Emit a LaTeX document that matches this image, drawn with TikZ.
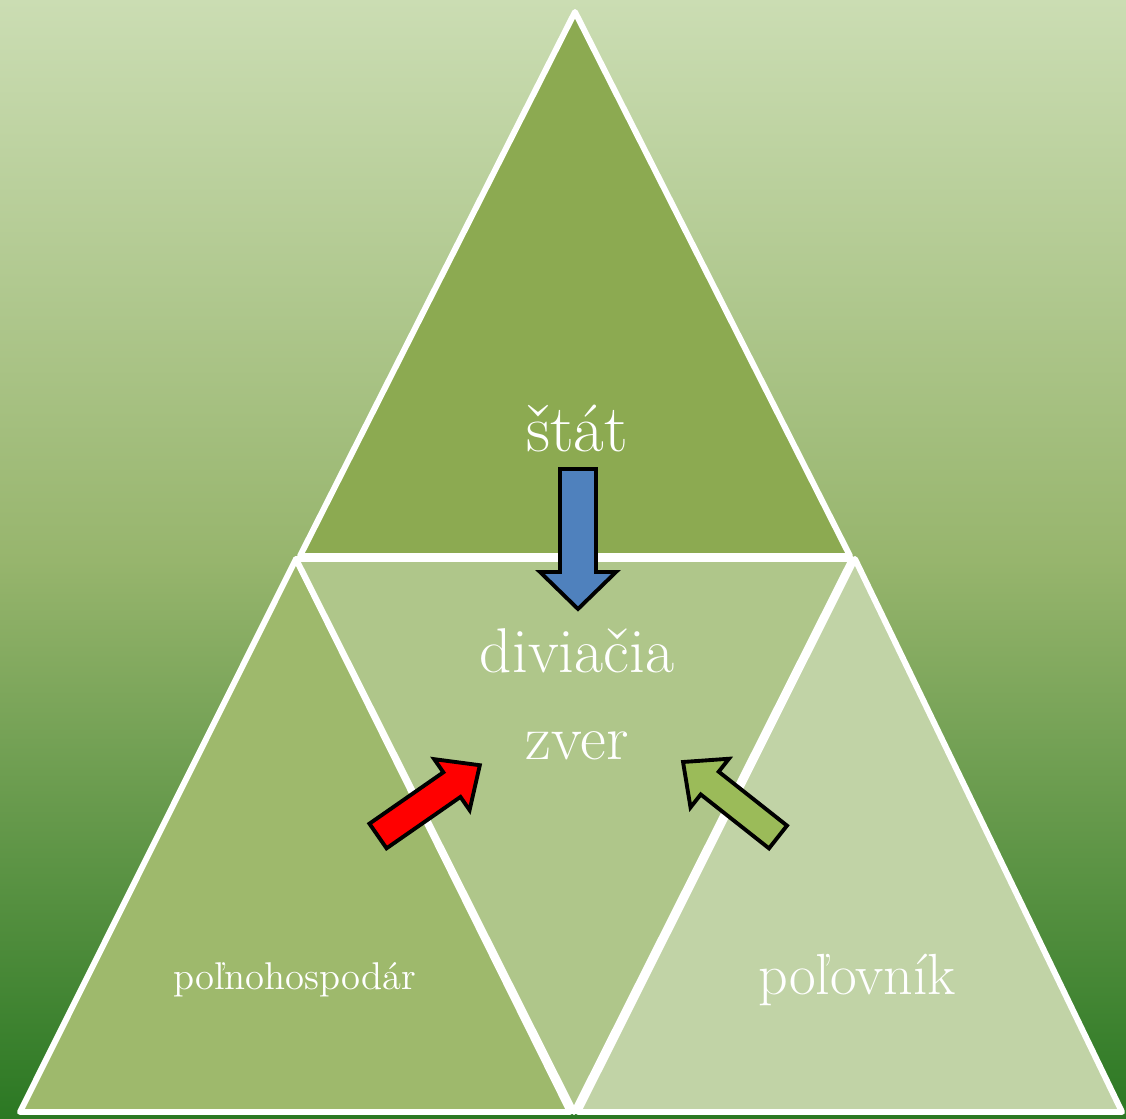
\documentclass[tikz,border=0pt]{standalone}
\usepackage{fontspec}
\definecolor{bgtop}{HTML}{CBDDB3}
\definecolor{bgmid}{HTML}{97B56D}
\definecolor{bgbot}{HTML}{2B7823}
\definecolor{topgreen}{HTML}{8CAA51}
\definecolor{midgreen}{HTML}{AFC68A}
\definecolor{leftgreen}{HTML}{9EB96C}
\definecolor{rightgreen}{HTML}{C1D3A6}
\definecolor{arrowblue}{HTML}{4F81BD}
\definecolor{arrowgreen}{HTML}{9BBB59}
% block arrow: tail, angle, length, shaft width, head width, head length, fill
\newcommand{\fatarrow}[7]{%
  \filldraw[arrowdecorate,fill=#7,shift={#1},rotate=#2]
    (0,{-#4/2}) -- ({#3-#6},{-#4/2}) -- ({#3-#6},{-#5/2}) -- (#3,0)
    -- ({#3-#6},{#5/2}) -- ({#3-#6},{#4/2}) -- (0,{#4/2}) -- cycle;}
\begin{document}
\begin{tikzpicture}
[x=0.01cm,y=-0.01cm,
  tridecorate/.style={draw=white,line width=1.7pt,line join=round},%
  arrowdecorate/.style={draw=black,line width=1.1pt,line join=miter},%
  labeldecorate/.style={text=white,inner sep=0pt,anchor=base}]
\useasboundingbox (0,0) rectangle (1126,1119);
% background
\shade[top color=bgtop,bottom color=bgmid] (0,0) rectangle (1126,561);
\shade[top color=bgmid,bottom color=bgbot] (0,560) rectangle (1126,1119);
% triangles
\filldraw[tridecorate,fill=topgreen] (575,12) -- (850,556) -- (300,556) -- cycle;
\filldraw[tridecorate,fill=leftgreen] (296,559) -- (570,1112) -- (20,1112) -- cycle;
\filldraw[tridecorate,fill=midgreen] (296,559) -- (852,559) -- (574,1112) -- cycle;
\filldraw[tridecorate,fill=rightgreen] (855,559) -- (1122,1112) -- (578,1112) -- cycle;
% labels
\node (stat) [labeldecorate,font=\fontsize{19}{23}\selectfont] at (577,452) {štát};
\node (zver) [labeldecorate,align=center,font=\fontsize{18}{25}\selectfont] at (577,760) {diviačia\\zver};
\node (polnohospodar) [labeldecorate,font=\fontsize{11}{13}\selectfont] at (295,990) {poľnohospodár};
\node (polovnik) [labeldecorate,font=\fontsize{16.5}{20}\selectfont] at (857,995) {poľovník};
% arrows
\fatarrow{(578,469)}{-90}{140}{36}{76}{37}{arrowblue}
\fatarrow{(378,836)}{34.8}{124}{30}{62}{34}{red}
\fatarrow{(778,837)}{141.7}{121}{29}{62}{34}{arrowgreen}
\end{tikzpicture}
\end{document}
